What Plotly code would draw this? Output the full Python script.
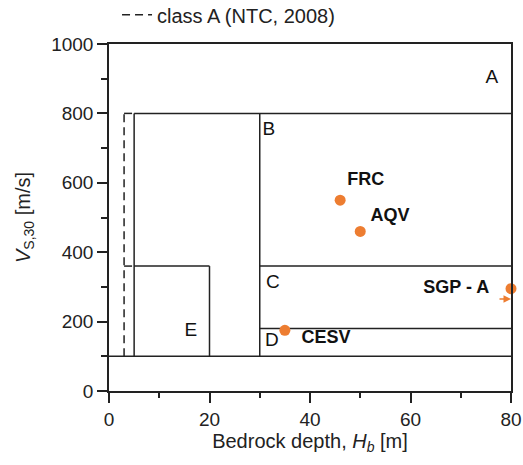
import plotly.graph_objects as go

# ---- data ----
site_names = ["FRC", "AQV", "SGP - A", "CESV"]
site_hb = [46, 50, 80, 35]
site_vs = [550, 460, 295, 175]
label_hb = [51.1, 55.9, 69.1, 43.2]
label_vs = [608, 504, 294, 150]

arrow_hb = [80]
arrow_vs = [265]

# class boundaries (segments: x0, y0, x1, y1)
solid_segments = [
    (0, 100, 80, 100),
    (5, 800, 80, 800),
    (5, 100, 5, 800),
    (30, 100, 30, 800),
    (5, 360, 20, 360),
    (20, 100, 20, 360),
    (30, 360, 80, 360),
    (30, 180, 80, 180),
]
dashed_segments = [
    (3, 100, 3, 800),
    (3, 800, 5, 800),
    (3, 360, 5, 360),
]
class_names = ["A", "B", "C", "D", "E"]
class_hb = [76.2, 31.8, 32.6, 32.4, 16.3]
class_vs = [902, 752, 311, 144, 173]

x_ticks = [0, 20, 40, 60, 80]
y_ticks = [0, 200, 400, 600, 800, 1000]

FONT = "Liberation Sans, Arial, sans-serif"
ORANGE = "#ED7D31"
INK = "#222222"


def seg_xy(segs):
    xs, ys = [], []
    for x0, y0, x1, y1 in segs:
        xs += [x0, x1, None]
        ys += [y0, y1, None]
    return xs, ys


fig = go.Figure()

sx, sy = seg_xy(solid_segments)
fig.add_trace(go.Scatter(x=sx, y=sy, mode="lines", line=dict(color=INK, width=1.5),
                         showlegend=False, hoverinfo="skip"))
dx, dy = seg_xy(dashed_segments)
fig.add_trace(go.Scatter(x=dx, y=dy, mode="lines", line=dict(color=INK, width=1.5, dash="8px,5px"),
                         name="class A (NTC, 2008)", showlegend=True, hoverinfo="skip"))

fig.add_trace(go.Scatter(x=class_hb, y=class_vs, mode="text", text=class_names,
                         textfont=dict(family=FONT, size=19, color="#111"),
                         showlegend=False, hoverinfo="skip"))

fig.add_trace(go.Scatter(x=site_hb, y=site_vs, mode="markers",
                         marker=dict(color=ORANGE, size=11), cliponaxis=False,
                         showlegend=False))
fig.add_trace(go.Scatter(x=label_hb, y=label_vs, mode="text", text=["<b>%s</b>" % n for n in site_names],
                         textfont=dict(family=FONT, size=18, color="#111"),
                         showlegend=False, hoverinfo="skip", cliponaxis=False))

for hx, vy in zip(arrow_hb, arrow_vs):
    fig.add_annotation(x=hx, y=vy, ax=-13, ay=0, text="", showarrow=True,
                       arrowhead=2, arrowsize=1, arrowwidth=1.5, arrowcolor=ORANGE,
                       xref="x", yref="y")

axis_common = dict(showline=True, linecolor=INK, linewidth=1.5, mirror=True,
                   ticks="outside", ticklen=10, tickwidth=1.5, tickcolor=INK,
                   showgrid=False, zeroline=False, automargin=False,
                   tickfont=dict(family=FONT, size=19, color=INK))

fig.update_xaxes(range=[0, 80], tickvals=x_ticks,
                 minor=dict(dtick=10, tick0=0, ticks="outside", ticklen=5, tickcolor=INK, tickwidth=1.5),
                 title=dict(text="Bedrock depth, <i>H<sub>b</sub></i> [m]",
                            font=dict(family=FONT, size=20, color=INK), standoff=2),
                 **axis_common)
fig.update_yaxes(range=[0, 1000], tickvals=y_ticks,
                 minor=dict(dtick=100, tick0=0, ticks="outside", ticklen=6, tickcolor=INK, tickwidth=1.5),
                 title=dict(text="<i>V</i><sub>S,30</sub> [m/s]",
                            font=dict(family=FONT, size=20, color=INK)),
                 **axis_common)

fig.update_layout(
    width=523, height=465,
    margin=dict(l=109, r=12, t=44, b=74, autoexpand=False),
    plot_bgcolor="white", paper_bgcolor="white",
    showlegend=True,
    legend=dict(x=0.02, y=1.084, xanchor="left", yanchor="middle", orientation="h",
                font=dict(family=FONT, size=20, color=INK), bgcolor="rgba(0,0,0,0)"),
)

# remove the default 8px page margin so the figure sits at the window origin
fig.write_html("out.html", config={"displayModeBar": False},
               post_script="document.body.style.margin='0';")
